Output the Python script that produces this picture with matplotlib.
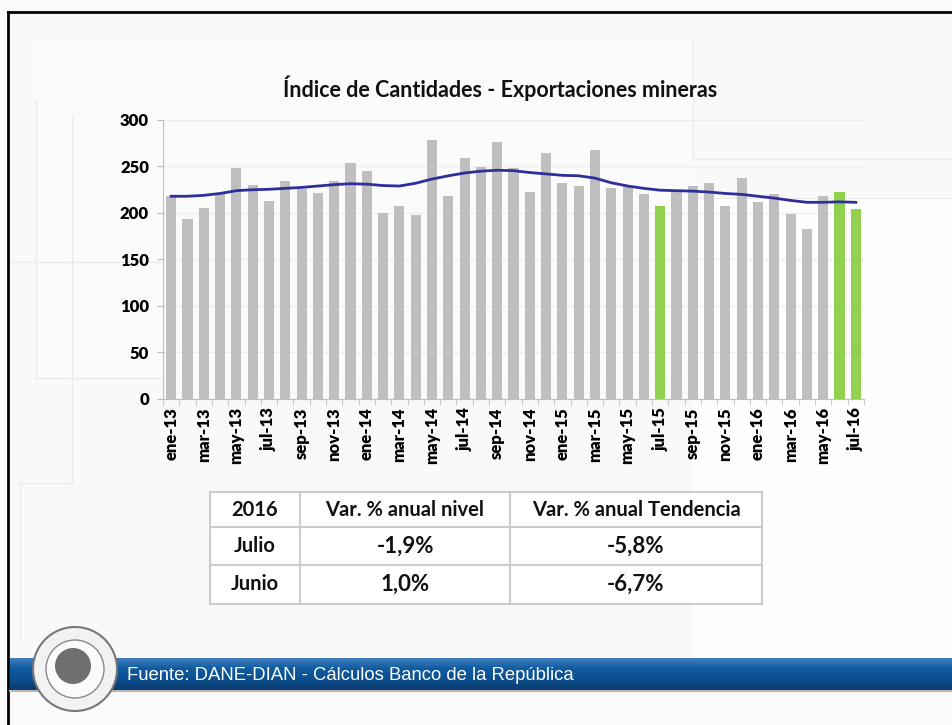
import numpy as np
import matplotlib
matplotlib.use("Agg")
import matplotlib.pyplot as plt
from matplotlib.patches import Rectangle, Circle
from matplotlib.colors import LinearSegmentedColormap

# ---------------- data ----------------
months = ["ene", "feb", "mar", "abr", "may", "jun", "jul", "ago", "sep", "oct", "nov", "dic"]
years = ["13", "14", "15", "16"]
categories = [f"{m}-{y}" for y in years for m in months][:43]   # ene-13 .. jul-16

index_values = [218, 194, 205, 220, 248, 230, 213, 234, 226, 221, 234, 254,
                245, 200, 207, 198, 279, 218, 259, 249, 276, 248, 223, 264,
                232, 229, 268, 227, 228, 220, 208, 224, 229, 232, 207, 238,
                212, 220, 199, 183, 218, 223, 204]

trend_values = [218, 218, 219, 221, 224, 225, 225.5, 226.5, 227.5, 229, 230.5, 231.5,
                231, 229.5, 229, 232, 236.5, 240, 243, 245, 246, 245.5, 243.5, 242,
                240.5, 240, 237.5, 232.5, 229, 226.5, 224.5, 224, 223.5, 222.5, 221, 220,
                218, 216, 213.5, 211.5, 211.5, 212, 211.5]

highlight = ["jul-15", "jun-16", "jul-16"]

yticks = [0, 50, 100, 150, 200, 250, 300]

title = "Índice de Cantidades - Exportaciones mineras"

table_header = ["2016", "Var. % anual nivel", "Var. % anual Tendencia"]
table_rows = [["Julio", "-1,9%", "-5,8%"],
              ["Junio", "1,0%", "-6,7%"]]

source = "Fuente: DANE-DIAN - Cálculos Banco de la República"

# ---------------- styles ----------------
W, H = 952, 725
GREY = "#bfbfbf"
GREEN = "#92d050"
LINE = "#2f2f9c"
FONT = ["Lato", "DejaVu Sans"]
TICKW = "heavy"

fig = plt.figure(figsize=(W / 100, H / 100), dpi=100, facecolor="#fafafa")

# background / decoration layer in pixel coordinates
bg = fig.add_axes([0, 0, 1, 1], zorder=0)
bg.set_xlim(0, W)
bg.set_ylim(H, 0)
bg.axis("off")
bg.add_patch(Rectangle((8, 12), W, 646, facecolor="#f9f9f9", edgecolor="none"))
bg.add_patch(Rectangle((693, 198), W - 693, 460, facecolor="#fefefe", edgecolor="none"))
bg.add_patch(Rectangle((36, 40), 660, 338, facecolor="#fbfbfb", edgecolor="none"))
deco = "#ebebeb"
for (x0, y0, x1, y1) in [(36, 100, 36, 378), (36, 378, 160, 378), (72, 115, 72, 483),
                         (10, 262, 160, 262), (693, 40, 693, 159), (693, 159, W, 159),
                         (693, 198, W, 198), (20, 483, 72, 483), (20, 483, 20, 640)]:
    bg.plot([x0, x1], [y0, y1], color=deco, lw=1.0)
# slide frame
bg.plot([8, W], [12, 12], color="black", lw=2)
bg.plot([8, 8], [12, H], color="black", lw=2)

# footer band with gradient
grad = np.linspace(0, 1, 64).reshape(-1, 1)
band_cmap = LinearSegmentedColormap.from_list("band", ["#3f7fc0", "#105a9e", "#0c4f90", "#0a3a6c"])
bg.imshow(grad, cmap=band_cmap, extent=(10, W, 690, 658), aspect="auto", zorder=2)
bg.plot([10, W], [691, 691], color="#b8b8b8", lw=1.5, zorder=2)
bg.text(127, 676, source, color="white", fontsize=13.3, family=["Liberation Sans", "DejaVu Sans"],
        va="center", ha="left", zorder=3)
# logo (simplified seal)
bg.add_patch(Circle((75, 669), 42, facecolor="#f2f2f2", edgecolor="#777777", lw=1.5, zorder=4))
bg.add_patch(Circle((75, 669), 29, facecolor="#fbfbfb", edgecolor="#8a8a8a", lw=1, zorder=5))
bg.add_patch(Circle((73, 666), 18, facecolor="#6f6f6f", edgecolor="none", zorder=6))

# ---------------- chart ----------------
ax = fig.add_axes([163 / W, 1 - 399 / H, (864 - 163) / W, (399 - 120) / H], zorder=2)
ax.set_facecolor("none")
x = np.arange(len(categories))
colors = [GREEN if c in highlight else GREY for c in categories]
ax.bar(x, index_values, width=0.62, color=colors, zorder=2)
ax.plot(x, trend_values, color=LINE, lw=2.0, zorder=3)

ax.set_xlim(-0.5, len(categories) - 0.5)
ax.set_ylim(0, 300)
ax.set_yticks(yticks)
ax.set_yticklabels([str(v) for v in yticks], fontsize=12, fontweight=TICKW, family=FONT)
ax.yaxis.grid(True, color="#eeeeee", lw=1)
ax.set_axisbelow(True)

ax.set_xticks(x[::2])
ax.set_xticklabels(categories[::2], rotation=90, fontsize=12, fontweight=TICKW, family=FONT)
ax.set_xticks(np.arange(-0.5, len(categories), 1), minor=True)
ax.tick_params(axis="x", which="major", length=0, pad=6)
ax.tick_params(axis="x", which="minor", length=4, color="#bfbfbf")
ax.tick_params(axis="y", length=4, color="#bfbfbf", pad=6)
for s in ["top", "right"]:
    ax.spines[s].set_visible(False)
for s in ["left", "bottom"]:
    ax.spines[s].set_color("#bfbfbf")

fig.text(500 / W, 1 - 88 / H, title, ha="center", va="center", fontsize=15.5,
         fontweight="bold", family=FONT, color="#111111")

# ---------------- table ----------------
col_edges = [210, 300, 510, 762]
row_edges = [492, 527, 565, 604]
bg.add_patch(Rectangle((col_edges[0], row_edges[0]), col_edges[-1] - col_edges[0],
                       row_edges[-1] - row_edges[0], facecolor="white", edgecolor="none", zorder=3))
for xe in col_edges:
    bg.plot([xe, xe], [row_edges[0], row_edges[-1]], color="#cccccc", lw=1.5, zorder=4)
for ye in row_edges:
    bg.plot([col_edges[0], col_edges[-1]], [ye, ye], color="#cccccc", lw=1.5, zorder=4)
all_rows = [table_header] + table_rows
for r, row in enumerate(all_rows):
    yc = (row_edges[r] + row_edges[r + 1]) / 2
    for c, val in enumerate(row):
        xc = (col_edges[c] + col_edges[c + 1]) / 2
        size = 14.5 if (r == 0 or c == 0) else 16
        bg.text(xc, yc, val, ha="center", va="center", fontsize=size, fontweight="bold",
                family=FONT, color="#111111", zorder=5)

fig.savefig("out.png", dpi=100, facecolor=fig.get_facecolor())
